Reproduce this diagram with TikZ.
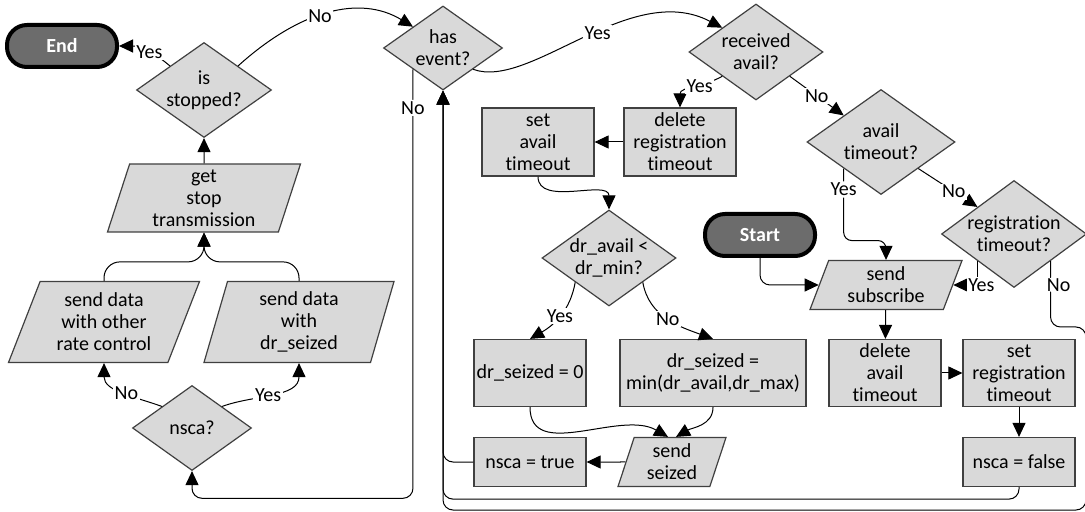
\documentclass[tikz,border=0pt]{standalone}
\usepackage{fontspec}
\setmainfont{Carlito}[Ligatures=NoCommon]
\usepackage{xcolor}
\usetikzlibrary{arrows.meta,shapes.geometric}
\definecolor{boxfill}{RGB}{217,217,217}
\definecolor{boxline}{RGB}{64,64,64}
\definecolor{termfill}{RGB}{108,108,108}

\begin{document}
\begin{tikzpicture}[
    x=0.5pt, y=0.5pt,
    base/.style={align=center, font=\fontsize{10}{11}\selectfont},
    proc/.style={base, draw=boxline, fill=boxfill, line width=0.6pt, inner sep=1pt, minimum width=56pt, minimum height=34pt},
    dec/.style={base, diamond, draw=boxline, fill=boxfill, line width=0.6pt, inner sep=-5pt, minimum width=67pt, minimum height=48pt},
    io/.style={base, trapezium, trapezium left angle=#1, trapezium right angle=180-#1, trapezium stretches body, draw=boxline, fill=boxfill, line width=0.6pt, inner sep=1pt},
    term/.style={base, draw=black, line width=2pt, fill=termfill, rounded corners=10pt, text=white, font=\fontsize{10}{11}\selectfont\bfseries, minimum width=55pt, minimum height=21pt},
    lbl/.style={base, fill=white, inner sep=0.8pt},
    arr/.style={-{Triangle[length=7pt, width=6.5pt]}, line width=0.5pt}
]
\useasboundingbox (0,0) rectangle (1085,-512);

% left column
\node[term] (endt) at (62,-46) {End};
\node[dec, minimum width=67.5pt, minimum height=47.5pt] (isstop) at (204,-90) {is\\stopped?};
\node[io=70, minimum width=96.5pt, minimum height=34pt] (getstop) at (204,-198) {get\\stop\\transmission};
\node[io=63, minimum width=95.5pt, minimum height=40.5pt] (sendoth) at (104,-322) {send data\\with other\\rate control};
\node[io=70, minimum width=95pt, minimum height=40.5pt] (senddr) at (299,-322) {send data\\with\\dr\_seized};
\node[dec, minimum width=59.5pt, minimum height=42.5pt] (nsca) at (192,-428) {nsca?};

% middle
\node[dec, minimum width=59.5pt, minimum height=42pt] (hasev) at (443,-48) {has\\event?};
\node[dec] (recav) at (756,-52) {received\\avail?};
\node[proc] (delreg) at (680,-142) {delete\\registration\\timeout};
\node[proc] (setav) at (538,-142) {set\\avail\\timeout};
\node[dec] (drmin) at (609,-258) {dr\_avail <\\dr\_min?};
\node[proc, minimum height=33.5pt] (drzero) at (530,-373) {dr\_seized = 0};
\node[proc, minimum width=93pt, minimum height=33.5pt] (drmax) at (713,-373) {dr\_seized =\\min(dr\_avail,dr\_max)};
\node[io=68, minimum width=54pt, minimum height=24.5pt] (sendsz) at (672,-462) {send\\seized};
\node[proc, minimum height=24.5pt] (nscat) at (530,-462) {nsca = true};

% right
\node[dec, minimum width=74pt, minimum height=52.5pt] (avto) at (881,-142) {avail\\timeout?};
\node[dec, minimum width=72.5pt, minimum height=53.5pt] (regto) at (1014,-234) {registration\\timeout?};
\node[term] (start) at (760,-235) {Start};
\node[io=65, minimum width=76pt, minimum height=24.5pt] (sendsub) at (886,-285) {send\\subscribe};
\node[proc, minimum height=33.5pt] (delav) at (885,-373) {delete\\avail\\timeout};
\node[proc, minimum height=33.5pt] (setreg) at (1019,-373) {set\\registration\\timeout};
\node[proc, minimum height=24.5pt] (nscaf) at (1019,-462) {nsca = false};

\coordinate (edgeR) at (1086,-327);
\coordinate (loopR) at (1086,-510);

% connectors
\draw[arr] (isstop.north west) .. controls +(-12,10) and +(25,0) .. node[lbl]{Yes} (endt.east);
\draw[arr] (isstop.north east) .. controls +(62,56) and +(-53,32) .. node[lbl, pos=0.45]{No} (hasev.north west);
\draw[arr] (getstop) -- (isstop);
\draw[arr, rounded corners=8pt] (sendoth.north) -- ++(0,19) -| (getstop.south);
\draw[arr, rounded corners=8pt] (senddr.north) -- ++(0,19) -| (getstop.south);
\draw[arr] (nsca.north west) to[out=160, in=-90] node[lbl, pos=0.45]{No} (sendoth.south);
\draw[arr] (nsca.north east) to[out=20, in=-90] node[lbl, pos=0.45]{Yes} (senddr.south);

\draw[arr, rounded corners=5pt] (hasev.south west) -- node[lbl, pos=0.09]{No} ++(0,-429) -| (nsca.south);
\draw[arr] (hasev.south east) .. controls +(57,-21) and +(-92,48) .. node[lbl, pos=0.55]{Yes} (recav.north west);
\draw[arr] (recav.south west) to[out=210, in=90] node[lbl, pos=0.4]{Yes} (delreg.north);
\draw[arr] (delreg) -- (setav);
\draw[arr] (setav.south) to[out=-90, in=90] (drmin.north);
\draw[arr] (drmin.south west) to[out=-100, in=30] node[lbl]{Yes} (drzero.north);
\draw[arr] (drmin.south east) to[out=-80, in=160] node[lbl]{No} (drmax.north);
\draw[arr] (drzero.south) to[out=-90, in=150] ([xshift=-2pt]sendsz.north);
\draw[arr] (drmax.south) to[out=-90, in=30] ([xshift=2pt]sendsz.north);
\draw[arr] (sendsz) -- (nscat);
\draw[arr, rounded corners=5pt] (nscat.west) -| (hasev.south);

\draw[arr] (recav.south east) -- node[lbl]{No} (avto.north west);
\draw[arr, rounded corners=4pt] (avto.south west) -- node[lbl, pos=0.29]{Yes} ++(0,-72) -| (sendsub.north);
\draw[arr] (avto.south east) -- node[lbl, pos=0.6]{No} (regto.north west);
\draw[arr] (regto.south west) |- node[lbl, pos=0.5, xshift=2pt]{Yes} (sendsub.east);
\draw[arr, rounded corners=5pt] (start.south) |- (sendsub.west);
\draw[arr] (sendsub) -- (delav);
\draw[arr] (delav) -- (setreg);
\draw[arr] (setreg) -- (nscaf);
\draw[arr, rounded corners=5pt] (nscaf.south) -- ++(0,-12) -| (hasev.south);
\draw[arr, rounded corners=5pt] (regto.south east) |- node[lbl, pos=0.18, xshift=4pt]{No} (edgeR) -- (loopR) -| (hasev.south);
\end{tikzpicture}
\end{document}
